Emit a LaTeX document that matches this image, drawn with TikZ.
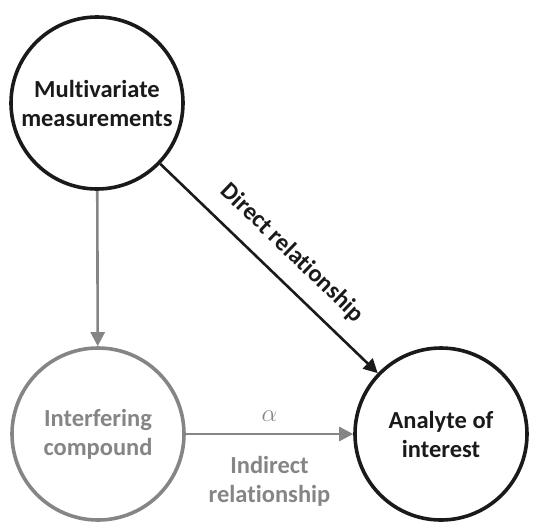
\documentclass[tikz,border=0pt]{standalone}
\usepackage{fontspec}
\setmainfont{Carlito}[Ligatures={NoCommon}]
\usetikzlibrary{arrows.meta}
\definecolor{dk}{HTML}{1A1A1A}
\definecolor{gr}{HTML}{858585}
\begin{document}
\begin{tikzpicture}[x=1pt,y=-1pt,
  circ/.style={circle,draw=#1,line width=3.6pt,minimum size=172pt,inner sep=0pt,align=center,
    font=\fontsize{24.5}{29}\selectfont\bfseries},
  conn/.style={draw=#1,line width=2.6pt,-{Triangle[length=14pt,width=14pt]}},
  lbl/.style={font=\fontsize{24.5}{29}\selectfont\bfseries,align=center}]
\useasboundingbox (0,0) rectangle (533,523);
\node[circ=dk,text=dk] (mm) at (97,103) {Multivariate\\measurements};
\node[circ=gr,text=gr] (ic) at (98,434) {Interfering\\compound};
\node[circ=dk,text=dk] (ai) at (441,434) {Analyte of\\interest};
\draw[conn=gr] (mm) -- (ic);
\draw[conn=dk] (mm) -- node[lbl,text=dk,sloped,above=12pt,pos=0.52]{Direct relationship} (ai);
\draw[conn=gr] (ic) -- node[above=8pt,text=gr,font=\fontsize{27}{30}\selectfont]{$\alpha$}
  node[lbl,text=gr,below=18pt]{Indirect\\relationship} (ai);
\end{tikzpicture}
\end{document}
